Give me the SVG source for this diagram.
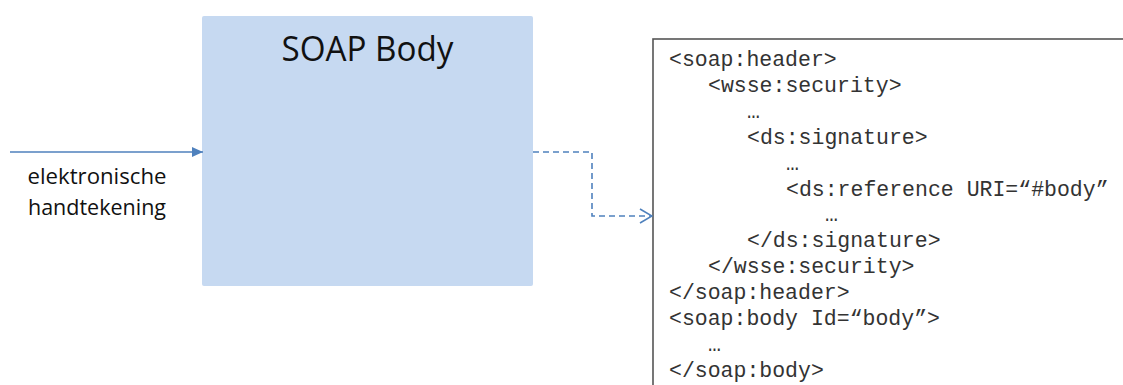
<svg xmlns="http://www.w3.org/2000/svg" width="1123" height="385" viewBox="0 0 1123 385">
<defs>
<style>
.code{font-family:"Liberation Mono","Courier New",monospace;font-size:21.5px;fill:#333}
.lbl{font-family:"Open Sans","Liberation Sans",sans-serif;fill:#111}
.conn{fill:none;stroke:#4F81BD;stroke-width:1.6}
</style>
<marker id="tri" markerWidth="12" markerHeight="10" refX="11" refY="5" orient="auto" markerUnits="userSpaceOnUse">
<path d="M0,0 L11,5 L0,10 Z" fill="#4F81BD"/>
</marker>
<marker id="open" markerWidth="14" markerHeight="16" refX="13" refY="8" orient="auto" markerUnits="userSpaceOnUse">
<path d="M1,1 L13,8 L1,15" fill="none" stroke="#4F81BD" stroke-width="1.6"/>
</marker>
</defs>
<rect width="1123" height="385" fill="#fff"/>
<g id="soap-body">
<rect x="202" y="16" width="331" height="270" rx="2" fill="#C6D9F1"/>
<text class="lbl" x="367.5" y="61" font-size="34" text-anchor="middle" textLength="172" lengthAdjust="spacingAndGlyphs">SOAP Body</text>
</g>
<g id="code-box">
<rect x="653" y="39" width="480" height="360" fill="#fff" stroke="#555" stroke-width="1.6"/>
<text class="code" x="669" y="66">&lt;soap:header&gt;</text>
<text class="code" x="708" y="92">&lt;wsse:security&gt;</text>
<text class="code" x="747" y="118">…</text>
<text class="code" x="747" y="143.7">&lt;ds:signature&gt;</text>
<text class="code" x="786" y="169.6">…</text>
<text class="code" x="786" y="195.5">&lt;ds:reference URI=“#body”</text>
<text class="code" x="825" y="221.4">…</text>
<text class="code" x="747" y="247.3">&lt;/ds:signature&gt;</text>
<text class="code" x="708" y="273.2">&lt;/wsse:security&gt;</text>
<text class="code" x="669" y="299.1">&lt;/soap:header&gt;</text>
<text class="code" x="669" y="325">&lt;soap:body Id=“body”&gt;</text>
<text class="code" x="708" y="351">…</text>
<text class="code" x="669" y="377">&lt;/soap:body&gt;</text>
</g>
<g id="signature-label">
<text class="lbl" x="97" y="184" font-size="21" text-anchor="middle" textLength="139" lengthAdjust="spacingAndGlyphs">elektronische</text>
<text class="lbl" x="97" y="215" font-size="21" text-anchor="middle" textLength="138" lengthAdjust="spacingAndGlyphs">handtekening</text>
</g>
<g id="connectors">
<line class="conn" x1="10" y1="152" x2="203" y2="152" marker-end="url(#tri)"/>
<path class="conn" d="M533,152 H592 V216 H652" stroke-dasharray="6,4" marker-end="url(#open)"/>
</g>
</svg>
